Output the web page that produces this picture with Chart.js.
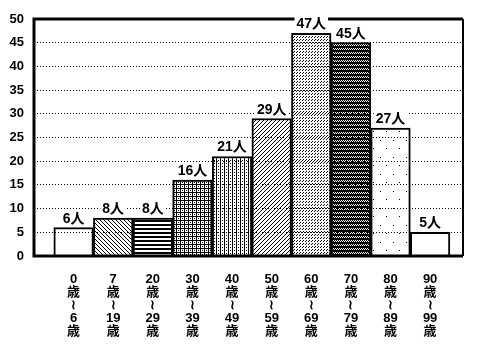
<!DOCTYPE html>
<html>
<head>
<meta charset="utf-8">
<script src="https://cdn.jsdelivr.net/npm/chart.js@4/dist/chart.umd.min.js"></script>
<style>
  html,body{margin:0;padding:0;background:#fff}
  #wrap{width:487px;height:354px}
</style>
</head>
<body>
<div id="wrap"><canvas id="chart"></canvas></div>
<script>
// age groups and counts
var ageFrom = ['0','7','20','30','40','50','60','70','80','90']
var ageTo = ['6','19','29','39','49','59','69','79','89','99']
var people = [6, 8, 8, 16, 21, 29, 47, 45, 27, 5]
var yTicks = [0, 5, 10, 15, 20, 25, 30, 35, 40, 45, 50]

var FONT = '"Liberation Sans", "Noto Sans CJK JP", sans-serif'

function makePattern(size, pixels, bg) {
    var c = document.createElement('canvas')
    c.width = size[0]; c.height = size[1]
    var g = c.getContext('2d')
    g.fillStyle = bg || '#fff'
    g.fillRect(0, 0, size[0], size[1])
    g.fillStyle = '#000'
    pixels.forEach(function(p){ g.fillRect(p[0], p[1], 1, 1) })
    return g.createPattern(c, 'repeat')
}

var fills = [
    '#fff',
    makePattern([4,4], [[0,0],[1,1],[2,2],[3,3]]),                      // \\\\
    makePattern([4,4], [[0,0],[1,0],[2,0],[3,0],[0,1],[1,1],[2,1],[3,1]]), // horizontal
    makePattern([4,4], [[0,0],[1,0],[2,0],[3,0],[0,1],[0,2],[0,3],[2,2]]), // grid
    makePattern([4,3], [[0,0],[0,1],[0,2],[2,1]]),                      // vertical
    makePattern([4,4], [[3,0],[2,1],[1,2],[0,3]]),                      // ////
    makePattern([3,3], [[0,0],[2,1]]),                                  // dots
    makePattern([4,4], [[0,0],[2,0],[1,1],[3,1],[0,2],[1,2],[2,2],[1,3],[3,3],[3,2],[0,3],[2,3]]), // dark check
    makePattern([13,17], [[3,4],[9,12]]),                               // sparse dots
    '#fff'
]

var labelPlugin = {
    id: 'labels',
    afterDraw: function(chart){
        var ctx = chart.ctx
        var a = chart.chartArea
        // frame
        ctx.save()
        ctx.strokeStyle = '#000'
        ctx.lineWidth = 3
        ctx.beginPath()
        ctx.moveTo(a.right, a.top); ctx.lineTo(a.left, a.top)
        ctx.lineTo(a.left, a.bottom); ctx.lineTo(a.right, a.bottom)
        ctx.stroke()
        ctx.lineWidth = 2
        ctx.beginPath()
        ctx.moveTo(a.right, a.top); ctx.lineTo(a.right, a.bottom)
        ctx.stroke()
        // value labels
        ctx.font = 'bold 14px ' + FONT
        ctx.textAlign = 'center'
        ctx.textBaseline = 'alphabetic'
        chart.getDatasetMeta(0).data.forEach(function(bar, i){
            var txt = people[i] + '人'
            var w = ctx.measureText(txt).width
            ctx.fillStyle = '#fff'
            ctx.fillRect(bar.x - w/2 - 2, bar.y - 18, w + 4, 15)
            ctx.fillStyle = '#000'
            ctx.fillText(txt, bar.x, bar.y - 5)
        })
        ctx.restore()
    }
}

var chart = new Chart(document.getElementById('chart'), {
    type: 'bar',
    data: {
        datasets: [{
            data: people.map(function(v, i){ return {x: i, y: v} }),
            backgroundColor: fills,
            borderColor: '#000',
            borderWidth: 2,
            barPercentage: 1,
            categoryPercentage: 1
        }]
    },
    options: {
        responsive: true,
        maintainAspectRatio: false,
        animation: false,
        layout: {padding: {top: 19, right: 24, left: 0, bottom: 0}},
        plugins: {legend: {display: false}, tooltip: {enabled: false}},
        scales: {
            x: {
                type: 'linear',
                offset: false,
                min: -1,
                max: 9.83,
                grid: {display: false},
                border: {display: false},
                afterBuildTicks: function(scale){
                    scale.ticks = ageFrom.map(function(_, i){ return {value: i} })
                },
                afterFit: function(scale){ scale.height = 98 },
                ticks: {
                    autoSkip: false,
                    maxRotation: 0,
                    padding: 9,
                    color: '#000',
                    font: {family: FONT, size: 13, weight: 'bold', lineHeight: 1.0},
                    callback: function(v){
                        return [ageFrom[v], '歳', '≀', ageTo[v], '歳']
                    }
                }
            },
            y: {
                min: 0,
                max: 50,
                afterBuildTicks: function(scale){
                    scale.ticks = yTicks.map(function(v){ return {value: v} })
                },
                afterFit: function(scale){ scale.width = 34 },
                grid: {color: '#000', lineWidth: 1, drawTicks: false, z: 1},
                border: {display: false, dash: [1, 2]},
                ticks: {
                    padding: 10,
                    color: '#000',
                    font: {family: FONT, size: 13, weight: 'bold'}
                }
            }
        }
    },
    plugins: [labelPlugin]
})
</script>
</body>
</html>
